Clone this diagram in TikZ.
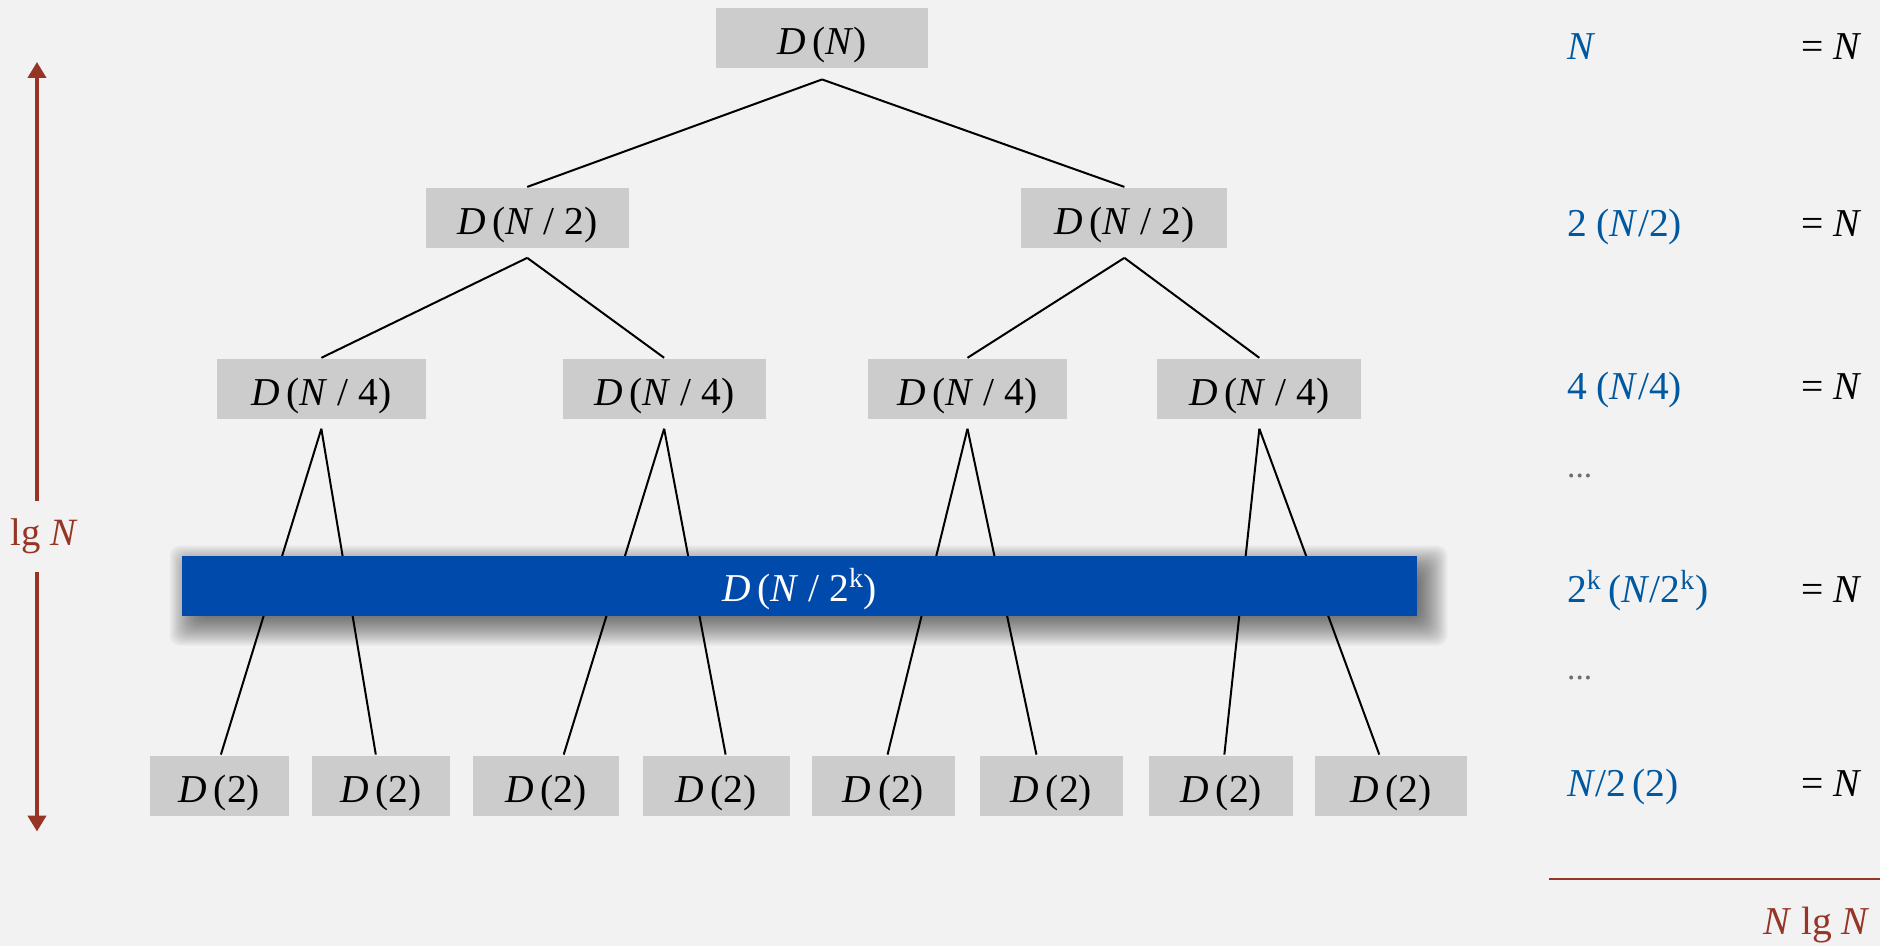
\documentclass[tikz,border=0pt]{standalone}
\usepackage{fontspec}
\setmainfont{Liberation Serif}
\usepackage{tikz}
\usetikzlibrary{arrows.meta,positioning}
\definecolor{bggray}{RGB}{242,242,242}
\definecolor{boxgray}{RGB}{204,204,204}
\definecolor{barblue}{RGB}{0,74,171}
\definecolor{sumblue}{RGB}{0,88,160}
\definecolor{lgred}{RGB}{150,52,38}
\definecolor{dotgray}{RGB}{110,110,110}
\newcommand{\Dof}[1]{\textit{D}\,(#1)}

\begin{document}
\begin{tikzpicture}[x=0.02cm, y=-0.02cm, line width=0.04cm]
   \fill[bggray] (0,0) rectangle (1881,946);
   \begin{scope}[every node/.style={fill=boxgray,minimum height=1.2cm,inner sep=0pt,text height=0.76cm,text depth=0.1cm,font=\fontsize{22.5}{26}\selectfont}]
    \node[minimum width=4.26cm] (dn) at (822.5,38.5) {\Dof{\textit{N}}};
    \node[minimum width=4.06cm] (dh1) at (527.5,218) {\Dof{\textit{N} / 2}};
    \node[minimum width=4.12cm] (dh2) at (1125,218) {\Dof{\textit{N} / 2}};
    \node[minimum width=4.18cm] (dq1) at (321.5,389) {\Dof{\textit{N} / 4}};
    \node[minimum width=4.06cm] (dq2) at (664.5,389) {\Dof{\textit{N} / 4}};
    \node[minimum width=4.00cm] (dq3) at (968,389) {\Dof{\textit{N} / 4}};
    \node[minimum width=4.08cm] (dq4) at (1260,389) {\Dof{\textit{N} / 4}};
    \node[minimum width=2.78cm] (dt1) at (219.5,786) {\Dof{2}};
    \node[minimum width=2.76cm] (dt2) at (381,786) {\Dof{2}};
    \node[minimum width=2.92cm] (dt3) at (546,786) {\Dof{2}};
    \node[minimum width=2.94cm] (dt4) at (716.5,786) {\Dof{2}};
    \node[minimum width=2.88cm] (dt5) at (884,786) {\Dof{2}};
    \node[minimum width=2.88cm] (dt6) at (1052,786) {\Dof{2}};
    \node[minimum width=2.88cm] (dt7) at (1222,786) {\Dof{2}};
    \node[minimum width=3.04cm] (dt8) at (1392,786) {\Dof{2}};
   \end{scope}
   \begin{scope}[every edge/.style={draw=black,line width=0.04cm}]
    \draw ([yshift=-0.2cm]dn.south) edge (dh1.north) ([yshift=-0.2cm]dn.south) edge (dh2.north);
    \draw ([yshift=-0.18cm]dh1.south) edge (dq1.north) ([yshift=-0.18cm]dh1.south) edge (dq2.north);
    \draw ([yshift=-0.18cm]dh2.south) edge (dq3.north) ([yshift=-0.18cm]dh2.south) edge (dq4.north);
    \draw ([yshift=-0.18cm]dq1.south) edge ([xshift=0.03cm]dt1.north) ([yshift=-0.18cm]dq1.south) edge ([xshift=-0.1cm]dt2.north);
    \draw ([yshift=-0.18cm]dq2.south) edge ([xshift=0.36cm]dt3.north) ([yshift=-0.18cm]dq2.south) edge ([xshift=0.19cm]dt4.north);
    \draw ([yshift=-0.18cm]dq3.south) edge ([xshift=0.08cm]dt5.north) ([yshift=-0.18cm]dq3.south) edge ([xshift=-0.3cm]dt6.north);
    \draw ([yshift=-0.18cm]dq4.south) edge ([xshift=0.06cm]dt7.north) ([yshift=-0.18cm]dq4.south) edge ([xshift=-0.24cm]dt8.north);
   \end{scope}
   \foreach \e in {-10,-8,...,20}
    \fill[black,opacity=0.045,rounded corners=0.2cm] (190-\e,566-\e) rectangle (1428+\e,626+\e);
   \node[fill=barblue,text=white,minimum width=24.72cm,minimum height=1.2cm,inner sep=0pt,
         text height=0.72cm,text depth=0.1cm,font=\fontsize{22.5}{26}\selectfont]
         (dk) at (800,586) {\Dof{\textit{N} / 2\textsuperscript{k}}};
   \begin{scope}[every node/.style={anchor=base west,inner sep=0pt,text=sumblue,font=\fontsize{22.5}{26}\selectfont}]
    \node (s1) at (1567,60) {\textit{N}};
    \node (s2) at (1567,237) {2 (\textit{N}/2)};
    \node (s3) at (1567,400) {4 (\textit{N}/4)};
    \node[text=dotgray,font=\fontsize{19}{22}\selectfont] (s4) at (1567,478) {...};
    \node (s5) at (1567,603) {2\textsuperscript{k}\,(\textit{N}/2\textsuperscript{k})};
    \node[text=dotgray,font=\fontsize{19}{22}\selectfont] (s6) at (1567,680) {...};
    \node (s7) at (1567,797) {\textit{N}/2\,(2)};
   \end{scope}
   \begin{scope}[every node/.style={anchor=base east,inner sep=0pt,font=\fontsize{22.5}{26}\selectfont}]
    \node (e1) at (1864,60) {= \textit{N}};
    \node (e2) at (1864,237) {= \textit{N}};
    \node (e3) at (1864,400) {= \textit{N}};
    \node (e5) at (1864,603) {= \textit{N}};
    \node (e7) at (1864,797) {= \textit{N}};
    \node[text=lgred] (total) at (1872,935) {\textit{N} lg \textit{N}};
   \end{scope}
   \draw[lgred,line width=0.04cm] (1550,879) -- (1881,879);
   \node[text=lgred,inner sep=0pt,minimum height=1.38cm,font=\fontsize{22}{26}\selectfont] (lg) at (44.5,536.5) {lg \textit{N}};
   \coordinate (uptip) at (37,62);
   \coordinate (downtip) at (37,832);
   \begin{scope}[lgred,line width=0.08cm,-{Triangle[width=0.36cm,length=0.32cm]}]
    \draw (uptip |- lg.north) -- (uptip);
    \draw (downtip |- lg.south) -- (downtip);
   \end{scope}
\end{tikzpicture}
\end{document}
